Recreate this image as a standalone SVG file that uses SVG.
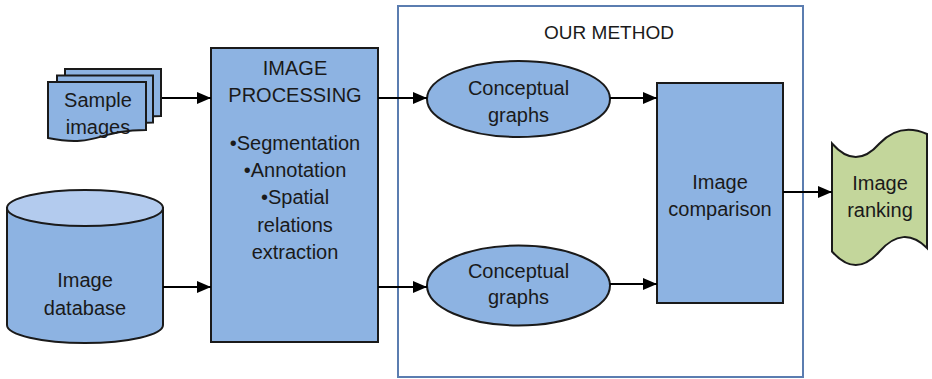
<svg xmlns="http://www.w3.org/2000/svg" width="932" height="379" viewBox="0 0 932 379">
  <style>
    .box { fill: #8db3e2; stroke: #1a1a1a; stroke-width: 2; }
    .lid { fill: #b3cbee; stroke: #1a1a1a; stroke-width: 2; }
    .tape { fill: #c3d69b; stroke: #1a1a1a; stroke-width: 2; }
    .frame { fill: none; stroke: #5b7db0; stroke-width: 2; }
    .lbl { font-family: "Liberation Sans", Arial, sans-serif; font-size: 20px; fill: #1a1a1a; text-anchor: middle; }
    .title { font-size: 19px; }
    .edge { fill: none; stroke: #000; stroke-width: 2; marker-end: url(#head); }
  </style>
  <defs>
    <marker id="head" markerUnits="userSpaceOnUse" markerWidth="16" markerHeight="14" refX="15" refY="7" orient="auto">
      <path d="M1,1 L15,7 L1,13 Z" fill="#000"/>
    </marker>
  </defs>

  <rect width="932" height="379" fill="#ffffff"/>

  <!-- frame grouping the method's own steps -->
  <g id="our-method">
    <rect class="frame" x="398" y="6" width="405" height="371"/>
    <text class="lbl title" x="609" y="39">OUR METHOD</text>
  </g>

  <!-- stack of sample image documents -->
  <g id="sample-images">
    <path class="box" d="M65,69 H161 V116 C113,116 113,134 65,124 Z"/>
    <path class="box" d="M57,75.5 H153 V122.5 C105,122.5 105,140.5 57,130.5 Z"/>
    <path class="box" d="M48,82 H146 V130 C97,130 97,148 48,138 Z"/>
    <text class="lbl" x="98" y="107">Sample</text>
    <text class="lbl" x="98" y="134">images</text>
  </g>

  <!-- image database cylinder -->
  <g id="image-database">
    <path class="box" d="M7,208 V325 A78,18 0 0 0 163,325 V208 Z"/>
    <ellipse class="lid" cx="85" cy="208" rx="78" ry="18"/>
    <text class="lbl" x="85" y="287">Image</text>
    <text class="lbl" x="85" y="315">database</text>
  </g>

  <g id="image-processing">
    <rect class="box" x="211" y="48" width="167" height="294"/>
    <text class="lbl" x="295" y="75">IMAGE</text>
    <text class="lbl" x="295" y="102">PROCESSING</text>
    <text class="lbl" x="295" y="150">•Segmentation</text>
    <text class="lbl" x="295" y="177">•Annotation</text>
    <text class="lbl" x="295" y="204">•Spatial</text>
    <text class="lbl" x="295" y="232">relations</text>
    <text class="lbl" x="295" y="259">extraction</text>
  </g>

  <g id="conceptual-graphs-top">
    <ellipse class="box" cx="518.5" cy="99" rx="91.5" ry="38"/>
    <text class="lbl" x="518.5" y="95">Conceptual</text>
    <text class="lbl" x="518.5" y="122">graphs</text>
  </g>

  <g id="conceptual-graphs-bottom">
    <ellipse class="box" cx="518.5" cy="285.5" rx="91.5" ry="40"/>
    <text class="lbl" x="518.5" y="278">Conceptual</text>
    <text class="lbl" x="518.5" y="304">graphs</text>
  </g>

  <g id="image-comparison">
    <rect class="box" x="657" y="83" width="126" height="220"/>
    <text class="lbl" x="720" y="189">Image</text>
    <text class="lbl" x="720" y="216">comparison</text>
  </g>

  <!-- punched-tape output -->
  <g id="image-ranking">
    <path class="tape" d="M832,143.5 Q855.75,170.5 879.5,143.5 Q900,122 927,134 V248 Q903.25,224.5 879.5,251.5 T832,251.5 Z"/>
    <text class="lbl" x="880" y="190">Image</text>
    <text class="lbl" x="880" y="217">ranking</text>
  </g>

  <g id="connectors">
    <line class="edge" x1="162" y1="98" x2="211" y2="98"/>
    <line class="edge" x1="163" y1="287" x2="211" y2="287"/>
    <line class="edge" x1="378" y1="98" x2="427" y2="98"/>
    <line class="edge" x1="378" y1="287" x2="427" y2="287"/>
    <line class="edge" x1="610" y1="98" x2="657" y2="98"/>
    <line class="edge" x1="610" y1="284" x2="657" y2="284"/>
    <line class="edge" x1="783" y1="192" x2="832" y2="192"/>
  </g>
</svg>
